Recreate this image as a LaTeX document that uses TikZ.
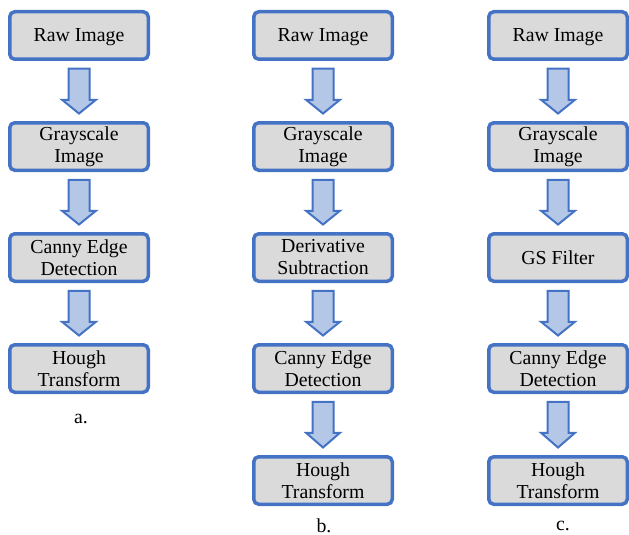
\documentclass[tikz,border=0pt]{standalone}
\usepackage{fontspec}
\setmainfont{Liberation Serif}
\newfontfamily\tnrfont{Liberation Serif}
\usetikzlibrary{calc}
\definecolor{bordblue}{HTML}{4472C4}
\definecolor{boxgray}{HTML}{DADADA}
\definecolor{arrowfill}{HTML}{B4C7E7}
\tikzset{
  stepbox/.style={draw=bordblue, line width=3.5pt, fill=boxgray, rounded corners=5pt,
    minimum width=138.5pt, minimum height=47.5pt, inner sep=0pt, align=center,
    font=\tnrfont\fontsize{19.8}{22}\selectfont},
  oneline/.style={text depth=0pt},
  blockarrow/.style={draw=bordblue, fill=arrowfill, line width=2pt, line join=miter},
  caplabel/.style={font=\tnrfont\fontsize{19.8}{22}\selectfont, inner sep=0pt}
}
\newcommand{\blockarr}[2]{%
  \draw[blockarrow]
    ($(#1.south)+(-10.5,7.75)$) -- ($(#1.south)+(10.5,7.75)$) --
    ($(#1.south)+(10.5,38.75)$) -- ($(#1.south)+(17,38.75)$) --
    ($(#2.north)+(0,-7.5)$) -- ($(#1.south)+(-17,38.75)$) --
    ($(#1.south)+(-10.5,38.75)$) -- cycle;}
\begin{document}
\begin{tikzpicture}[x=1pt,y=-1pt]
\useasboundingbox (0,0) rectangle (629,535);
% column a
\node[stepbox,oneline] (a1) at (79,35.5) {Raw Image};
\node[stepbox] (a2) at (79,146.5) {Grayscale\\Image};
\node[stepbox] (a3) at (79,257.5) {Canny Edge\\Detection};
\node[stepbox] (a4) at (79,368.5) {Hough\\Transform};
\node[caplabel] (la) at (81,419) {a.};
\blockarr{a1}{a2}
\blockarr{a2}{a3}
\blockarr{a3}{a4}
% column b
\node[stepbox,oneline] (b1) at (323,35.5) {Raw Image};
\node[stepbox] (b2) at (323,146.5) {Grayscale\\Image};
\node[stepbox] (b3) at (323,257.5) {Derivative\\Subtraction};
\node[stepbox] (b4) at (323,368.5) {Canny Edge\\Detection};
\node[stepbox] (b5) at (323,480.5) {Hough\\Transform};
\node[caplabel] (lb) at (324,526) {b.};
\blockarr{b1}{b2}
\blockarr{b2}{b3}
\blockarr{b3}{b4}
\blockarr{b4}{b5}
% column c
\node[stepbox,oneline] (c1) at (558,35.5) {Raw Image};
\node[stepbox] (c2) at (558,146.5) {Grayscale\\Image};
\node[stepbox] (c3) at (558,257.5) {GS Filter};
\node[stepbox] (c4) at (558,368.5) {Canny Edge\\Detection};
\node[stepbox] (c5) at (558,480.5) {Hough\\Transform};
\node[caplabel] (lc) at (563,526) {c.};
\blockarr{c1}{c2}
\blockarr{c2}{c3}
\blockarr{c3}{c4}
\blockarr{c4}{c5}
\end{tikzpicture}
\end{document}
